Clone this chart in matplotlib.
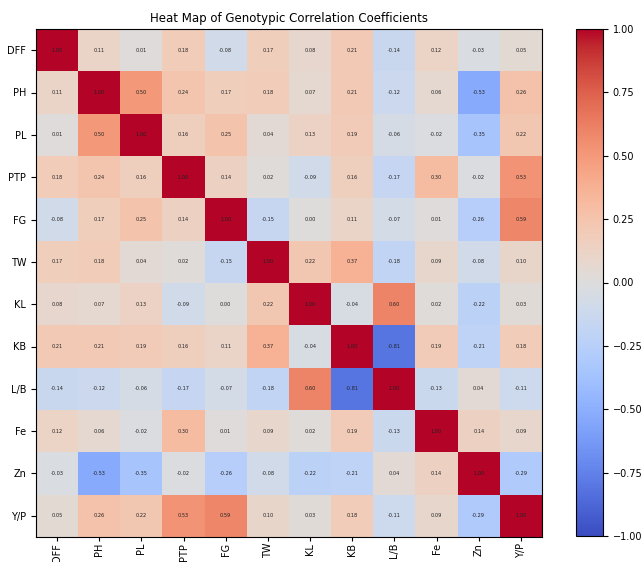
import numpy as np
import matplotlib
matplotlib.use("Agg")
import matplotlib.pyplot as plt

labels = ["DFF", "PH", "PL", "PTP", "FG", "TW", "KL", "KB", "L/B", "Fe", "Zn", "Y/P"]
r_DFF = [1.00, 0.11, 0.01, 0.18, -0.08, 0.17, 0.08, 0.21, -0.14, 0.12, -0.03, 0.05]
r_PH  = [0.11, 1.00, 0.50, 0.24, 0.17, 0.18, 0.07, 0.21, -0.12, 0.06, -0.53, 0.26]
r_PL  = [0.01, 0.50, 1.00, 0.16, 0.25, 0.04, 0.13, 0.19, -0.06, -0.02, -0.35, 0.22]
r_PTP = [0.18, 0.24, 0.16, 1.00, 0.14, 0.02, -0.09, 0.16, -0.17, 0.30, -0.02, 0.53]
r_FG  = [-0.08, 0.17, 0.25, 0.14, 1.00, -0.15, 0.00, 0.11, -0.07, 0.01, -0.26, 0.59]
r_TW  = [0.17, 0.18, 0.04, 0.02, -0.15, 1.00, 0.22, 0.37, -0.18, 0.09, -0.08, 0.10]
r_KL  = [0.08, 0.07, 0.13, -0.09, 0.00, 0.22, 1.00, -0.04, 0.60, 0.02, -0.22, 0.03]
r_KB  = [0.21, 0.21, 0.19, 0.16, 0.11, 0.37, -0.04, 1.00, -0.81, 0.19, -0.21, 0.18]
r_LB  = [-0.14, -0.12, -0.06, -0.17, -0.07, -0.18, 0.60, -0.81, 1.00, -0.13, 0.04, -0.11]
r_Fe  = [0.12, 0.06, -0.02, 0.30, 0.01, 0.09, 0.02, 0.19, -0.13, 1.00, 0.14, 0.09]
r_Zn  = [-0.03, -0.53, -0.35, -0.02, -0.26, -0.08, -0.22, -0.21, 0.04, 0.14, 1.00, -0.29]
r_YP  = [0.05, 0.26, 0.22, 0.53, 0.59, 0.10, 0.03, 0.18, -0.11, 0.09, -0.29, 1.00]

mat = np.array([r_DFF, r_PH, r_PL, r_PTP, r_FG, r_TW, r_KL, r_KB, r_LB, r_Fe, r_Zn, r_YP])
cbar_ticks = [-1, -0.75, -0.5, -0.25, 0, 0.25, 0.5, 0.75, 1]

fig = plt.figure(figsize=(6.41, 5.62), dpi=100)
W, H = 641, 562
ax = fig.add_axes([36 / W, 1 - 537 / H, (542 - 36) / W, (537 - 29) / H])
im = ax.imshow(mat, cmap="coolwarm", vmin=-1, vmax=1, aspect="auto")
n = len(labels)
ax.set_xticks(range(n))
ax.set_yticks(range(n))
ax.set_xticklabels(labels, rotation=90, fontsize=7)
ax.set_yticklabels(labels, fontsize=7)
ax.tick_params(axis="y", length=3.5, width=0.8)
ax.tick_params(axis="x", length=3, width=0.8, pad=1.2)
for i in range(n):
    for j in range(n):
        ax.text(j, i, f"{mat[i, j]:.2f}", ha="center", va="center", fontsize=3.6, color="#222222")
ax.set_title("Heat Map of Genotypic Correlation Coefficients", fontsize=8.5, pad=5)

cax = fig.add_axes([576 / W, 1 - 536 / H, (603 - 576) / W, (536 - 29) / H])
cb = fig.colorbar(im, cax=cax)
cb.set_ticks(cbar_ticks)
cb.ax.set_yticklabels([f"{t:.2f}".replace("-", "\u2212") for t in cbar_ticks])
cb.ax.tick_params(labelsize=7, length=3.5, width=0.8)

fig.savefig("out.png", dpi=100)
